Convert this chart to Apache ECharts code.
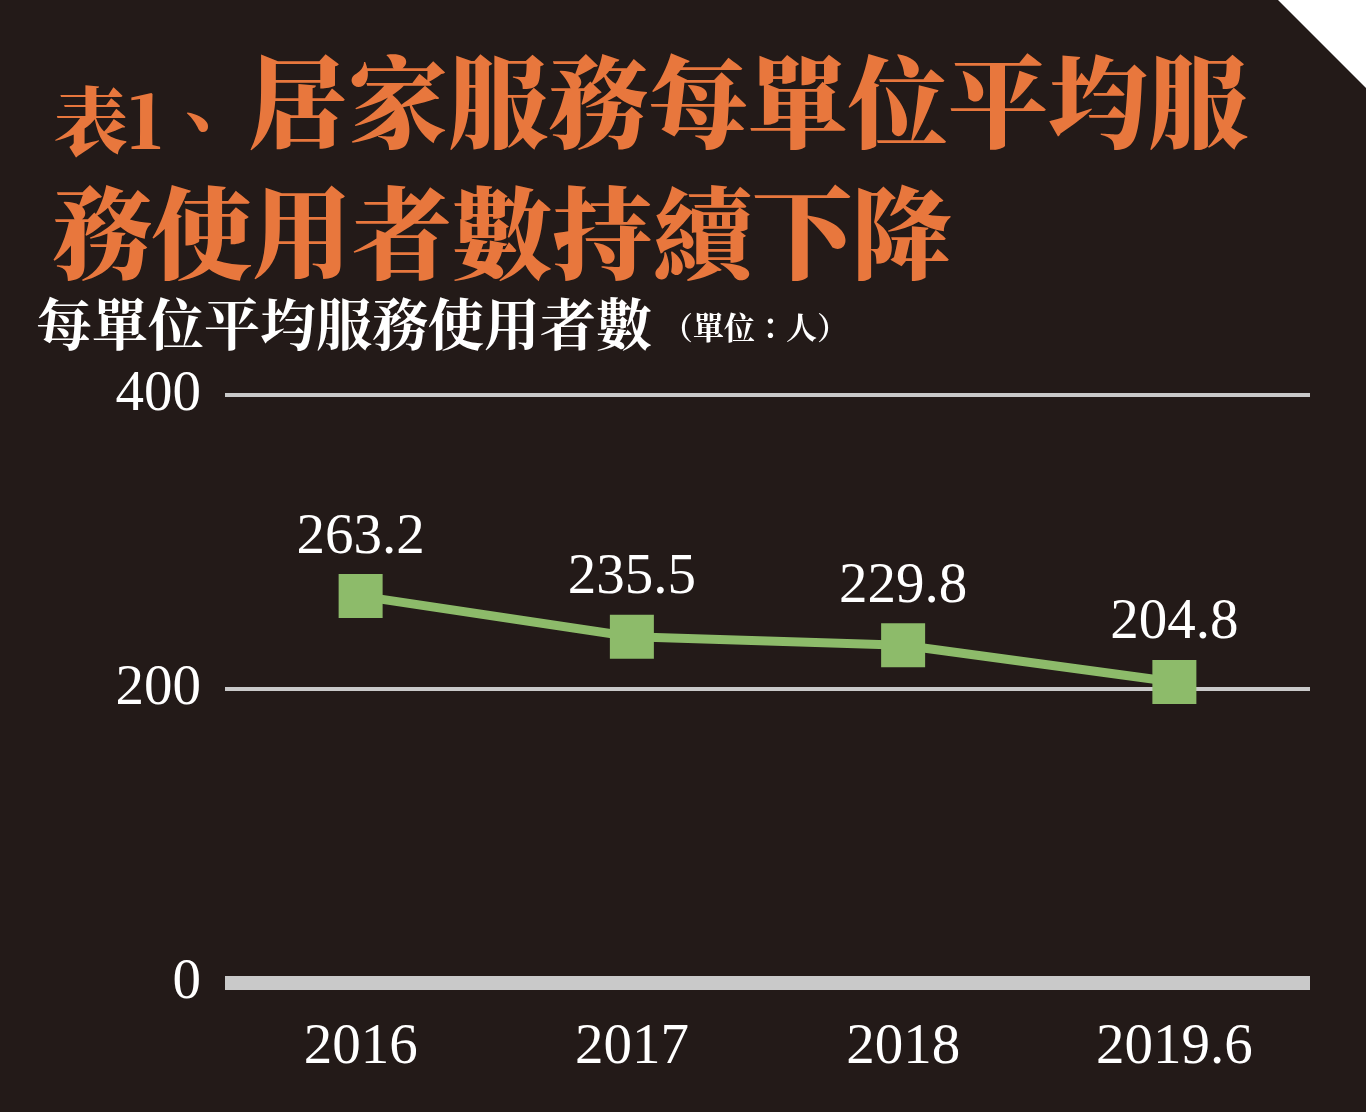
<!DOCTYPE html>
<html lang="zh-TW">
<head>
  <meta charset="utf-8">
  <title>居家服務每單位平均服務使用者數</title>
  <script src="https://cdn.jsdelivr.net/npm/echarts@6/dist/echarts.min.js"></script>
  <style>
    html, body { margin: 0; padding: 0; background: #231a18; }
    #main { width: 1366px; height: 1112px; }
  </style>
</head>
<body>
  <div id="main"></div>
  <script>
    // 資料
    var years = ['2016', '2017', '2018', '2019.6'];
    var perUnit = [263.2, 235.5, 229.8, 204.8];
    var yTicks = [0, 200, 400];

    var cjk = "'Noto Serif CJK TC', 'Noto Sans CJK TC', serif";
    var num = "'Liberation Serif', 'DejaVu Serif', serif";
    var orange = '#e8773d';
    var green = '#8dbb6a';
    var grey = '#c9c9c9';

    var myChart = echarts.init(document.getElementById('main'));

    var option = {
      backgroundColor: '#231a18',
      animation: false,
      graphic: [
        // 右上角切角
        {
          type: 'polygon',
          shape: { points: [[1278, 0], [1366, 0], [1366, 88]] },
          style: { fill: '#ffffff' }
        },
        {
          type: 'text', left: 54, top: 84,
          style: { text: '表1、', fill: orange, font: '900 74px ' + cjk }
        },
        {
          type: 'text', left: 248, top: 52,
          style: { text: '居家服務每單位平均服', fill: orange, font: '900 100px ' + cjk }
        },
        {
          type: 'text', left: 52, top: 183,
          style: { text: '務使用者數持續下降', fill: orange, font: '900 100px ' + cjk }
        },
        {
          type: 'text', left: 36, top: 296,
          style: { text: '每單位平均服務使用者數', fill: '#ffffff', font: 'bold 56px ' + cjk }
        },
        {
          type: 'text', left: 662, top: 312,
          style: { text: '（單位：人）', fill: '#ffffff', font: 'bold 31px ' + cjk }
        }
      ],
      grid: {
        left: 225,
        right: 56,
        top: 395,
        bottom: 129
      },
      xAxis: {
        type: 'category',
        data: years,
        boundaryGap: true,
        axisLine: { show: true, lineStyle: { color: grey, width: 14, cap: 'butt' } },
        axisTick: { show: false },
        axisLabel: {
          color: '#ffffff',
          fontFamily: num,
          fontSize: 57,
          margin: 37
        }
      },
      yAxis: {
        type: 'value',
        min: yTicks[0],
        max: yTicks[yTicks.length - 1],
        interval: 200,
        axisLine: { show: false },
        axisTick: { show: false },
        splitLine: { show: true, lineStyle: { color: grey, width: 4 } },
        axisLabel: {
          color: '#ffffff',
          fontFamily: num,
          fontSize: 57,
          margin: 24
        }
      },
      series: [{
        name: '每單位平均服務使用者數',
        type: 'line',
        data: perUnit,
        symbol: 'rect',
        symbolSize: 44,
        itemStyle: { color: green },
        lineStyle: { color: green, width: 9 },
        label: {
          show: true,
          position: 'top',
          distance: 8,
          color: '#ffffff',
          fontFamily: num,
          fontSize: 57,
          formatter: function (p) { return p.value.toFixed(1); }
        }
      }]
    };

    myChart.setOption(option);
  </script>
</body>
</html>
